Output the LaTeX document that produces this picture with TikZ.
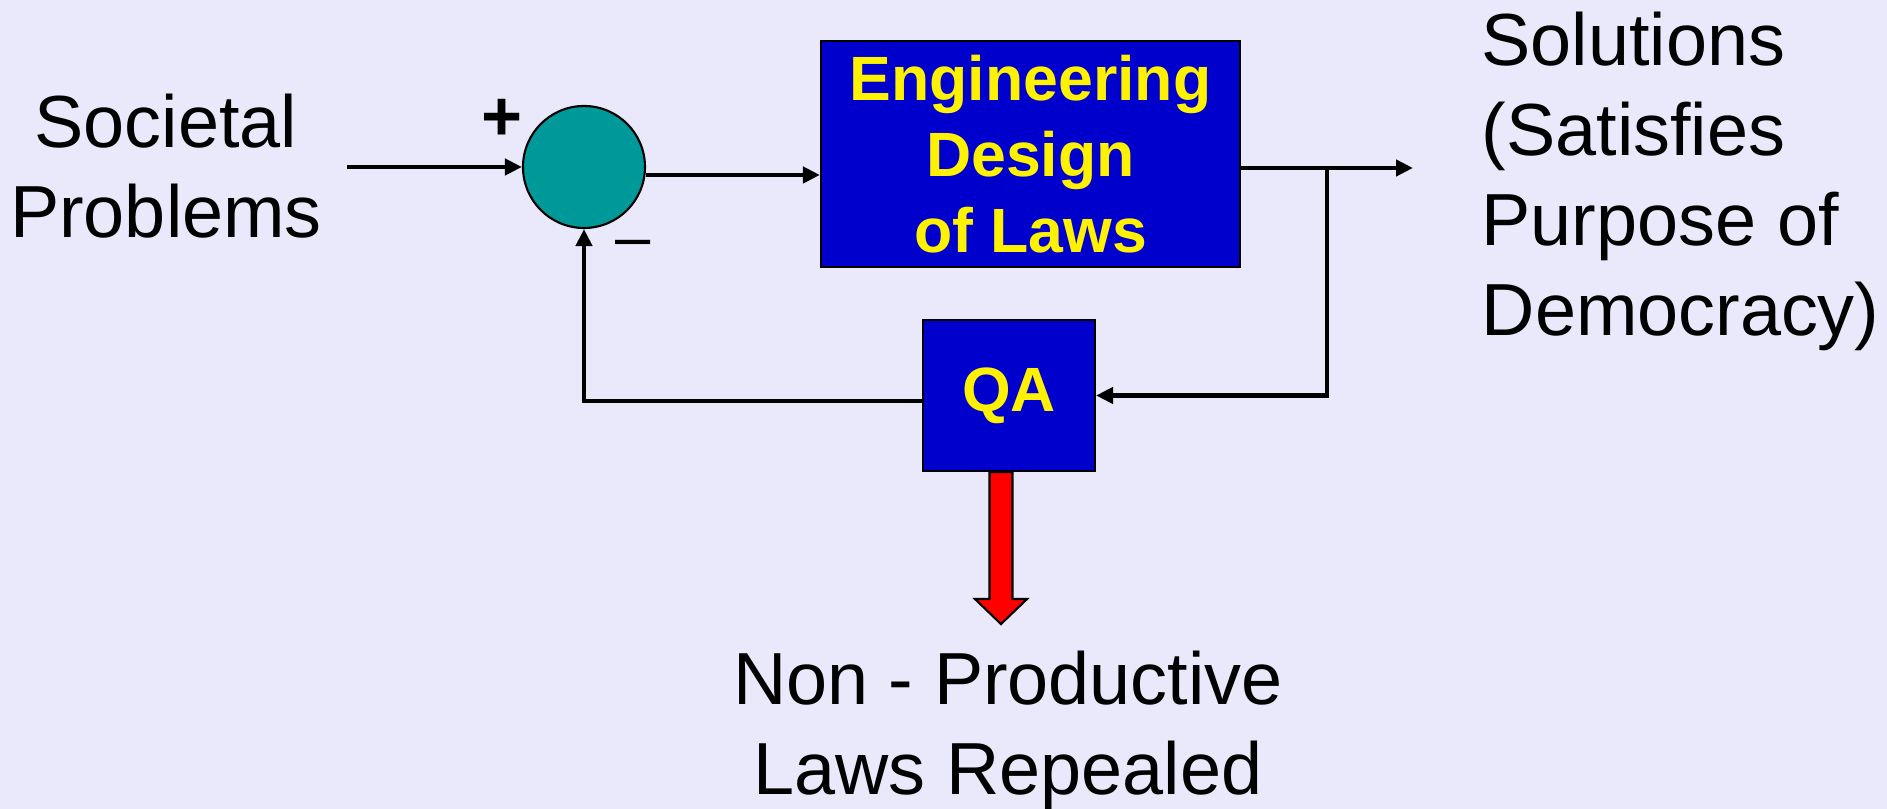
\documentclass[tikz,border=0pt]{standalone}
\usepackage{fontspec}
\setmainfont{Liberation Sans}
\usetikzlibrary{arrows.meta,positioning,calc}
\definecolor{fond}{RGB}{233,233,251}
\definecolor{sarcelle}{RGB}{0,153,153}
\definecolor{bleuloi}{RGB}{0,0,204}
\tikzset{
  fleche/.style={line width=1.2pt,-{Triangle[length=0.17cm,width=0.16cm]}},
  bloc/.style={draw,line width=0.6pt,fill=bleuloi,text=yellow,font=\fontsize{17.8}{21.6}\selectfont\bfseries,align=center,inner sep=0pt},
  grand/.style={font=\fontsize{21}{25.6}\selectfont,inner sep=0pt}
}

\begin{document}
\begin{tikzpicture}
            \useasboundingbox (0,0) rectangle (18.87,-8.09);
            \fill[fond] (0,0) rectangle (18.87,-8.09);
            \node[circle,draw,line width=0.6pt,fill=sarcelle,minimum size=1.22cm,inner sep=0pt] (somme) at (5.84,-1.67) {};
            \node[bloc,minimum width=4.19cm,minimum height=2.26cm] (conception) at (10.305,-1.54) {Engineering\\Design\hspace*{0.18cm}\\of Laws};
            \node[bloc,minimum width=1.72cm,minimum height=1.51cm] (qa) at (10.09,-3.955) {QA};
            \coordinate (entree) at (3.47,-1.67);
            \coordinate (branche) at (13.27,-1.68);
            \coordinate (sortie) at (14.13,-1.68);
            \coordinate (rejet) at ([xshift=-0.08cm]qa.south); % départ de la flèche rouge
            \draw[fleche] (entree) -- (somme);
            \draw[fleche] ([yshift=-0.08cm]somme.east) -- ([yshift=-0.08cm]somme.east -| conception.west);
            \draw[fleche] (branche -| conception.east) -- (sortie);
            \draw[fleche] (branche) |- (qa.east);
            \draw[fleche] ([yshift=-0.055cm]qa.west) -| (somme.south);
            \draw[fill=red,line width=0.6pt] ($(rejet)+(-0.115,0)$) -- ++(0,-1.27) -- ++(-0.145,0) -- ++(0.26,-0.25) -- ++(0.26,0.25) -- ++(-0.145,0) -- ++(0,1.27) -- cycle;
            \node[grand,align=center,anchor=north] (probleme) at (1.66,-0.93) {Societal\\Problems};
            \node[grand,align=left,anchor=north west] (solution) at (14.81,-0.11) {Solutions\\(Satisfies\\Purpose of\\Democracy)};
            \node[grand,align=center,anchor=north] (abroge) at (10.08,-6.50) {Non - Productive\\Laws Repealed};
            \node[font=\fontsize{20}{24}\selectfont\bfseries,inner sep=0pt] (plus) at (5.02,-1.20) {+};
            \node[font=\fontsize{18}{21}\selectfont,inner sep=0pt] (moins) at (6.33,-2.49) {\textendash};
        \end{tikzpicture}
\end{document}
